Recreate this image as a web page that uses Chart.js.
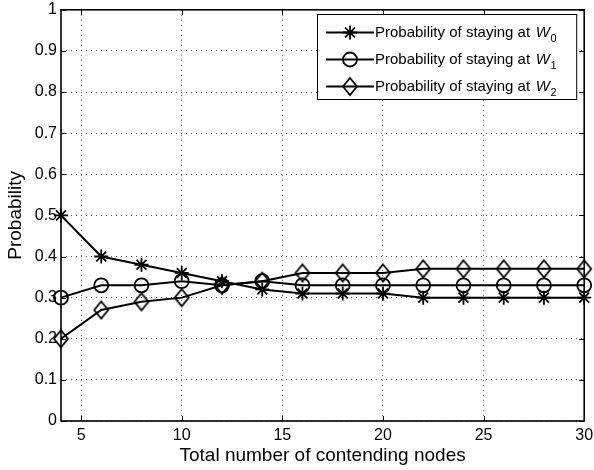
<!DOCTYPE html>
<html>
<head>
<meta charset="utf-8">
<script src="https://cdn.jsdelivr.net/npm/chart.js@4/dist/chart.umd.min.js"></script>
<style>
  html, body { margin: 0; padding: 0; background: #fff; }
  #wrap { width: 594px; height: 470px; }
</style>
</head>
<body>
<div id="wrap"><canvas id="c" width="594" height="470"></canvas></div>
<script>
// Probability of a node staying in each back-off window vs. number of contending nodes
const nodes  = [4, 6, 8, 10, 12, 14, 16, 18, 20, 22, 24, 26, 28, 30];
const stayW0 = [0.50, 0.40, 0.38, 0.36, 0.34, 0.32, 0.31, 0.31, 0.31, 0.30, 0.30, 0.30, 0.30, 0.30];
const stayW1 = [0.30, 0.33, 0.33, 0.34, 0.33, 0.34, 0.33, 0.33, 0.33, 0.33, 0.33, 0.33, 0.33, 0.33];
const stayW2 = [0.20, 0.27, 0.29, 0.30, 0.33, 0.34, 0.36, 0.36, 0.36, 0.37, 0.37, 0.37, 0.37, 0.37];

const legendPrefix = 'Probability of staying at';
const windowNames  = ['W', 'W', 'W'];
const windowIndex  = ['0', '1', '2'];

const xTickValues = [5, 10, 15, 20, 25, 30];
const yTickValues = [0, 0.1, 0.2, 0.3, 0.4, 0.5, 0.6, 0.7, 0.8, 0.9, 1];
const yTickLabels = ['0', '0.1', '0.2', '0.3', '0.4', '0.5', '0.6', '0.7', '0.8', '0.9', '1'];

const xTitle = 'Total number of contending nodes';
const yTitle = 'Probability';

const FONT = "'Liberation Sans', Arial, Helvetica, sans-serif";

// tall open diamond marker
function diamondGlyph(w, h, lw) {
  const c = document.createElement('canvas');
  c.width = w + 4; c.height = h + 4;
  const g = c.getContext('2d');
  const cx = c.width / 2, cy = c.height / 2;
  g.lineWidth = lw;
  g.strokeStyle = '#000';
  g.beginPath();
  g.moveTo(cx, cy - h / 2);
  g.lineTo(cx + w / 2, cy);
  g.lineTo(cx, cy + h / 2);
  g.lineTo(cx - w / 2, cy);
  g.closePath();
  g.stroke();
  return c;
}
const diamond = diamondGlyph(14, 17, 1.8);

function series(values, style, radius) {
  return {
    data: nodes.map((n, i) => ({ x: n, y: values[i] })),
    borderColor: '#000',
    backgroundColor: 'rgba(0,0,0,0)',
    borderWidth: 2,
    pointStyle: style,
    pointRadius: radius,
    pointBorderColor: '#000',
    pointBackgroundColor: 'rgba(0,0,0,0)',
    pointBorderWidth: 1.8,
    tension: 0,
    clip: false
  };
}

// axes frame with inward tick marks on all four sides
const framePlugin = {
  id: 'frame',
  afterDatasetsDraw(chart) {
    const { ctx, chartArea: a, scales: { x, y } } = chart;
    ctx.save();
    ctx.strokeStyle = '#000';
    ctx.lineWidth = 1;
    ctx.beginPath();
    const len = 5;
    xTickValues.forEach(v => {
      const px = Math.round(x.getPixelForValue(v)) + 0.5;
      ctx.moveTo(px, a.bottom); ctx.lineTo(px, a.bottom - len);
      ctx.moveTo(px, a.top); ctx.lineTo(px, a.top + len);
    });
    yTickValues.forEach(v => {
      const py = Math.round(y.getPixelForValue(v)) + 0.5;
      ctx.moveTo(a.left, py); ctx.lineTo(a.left + len, py);
      ctx.moveTo(a.right, py); ctx.lineTo(a.right - len, py);
    });
    ctx.stroke();
    ctx.lineWidth = 1.6;
    ctx.strokeRect(a.left, a.top, a.right - a.left, a.bottom - a.top);
    ctx.restore();
  }
};

// boxed legend with subscripted window names
const legendPlugin = {
  id: 'subLegend',
  afterDraw(chart) {
    const { ctx, chartArea: a } = chart;
    const boxL = 317, boxT = 14, boxW = a.right - 8 - 317, boxH = 85;
    const rowGap = 27, firstRow = boxT + 18.5;
    ctx.save();
    ctx.fillStyle = '#fff';
    ctx.fillRect(boxL, boxT, boxW, boxH);
    ctx.strokeStyle = '#000';
    ctx.lineWidth = 1;
    ctx.strokeRect(boxL + 0.5, boxT + 0.5, boxW, boxH);
    chart.data.datasets.forEach((ds, i) => {
      const yRow = firstRow + i * rowGap;
      ctx.strokeStyle = '#000';
      ctx.lineWidth = ds.borderWidth;
      ctx.beginPath();
      ctx.moveTo(boxL + 9, yRow);
      ctx.lineTo(boxL + 57, yRow);
      ctx.stroke();
      ctx.lineWidth = ds.pointBorderWidth;
      ctx.strokeStyle = '#000';
      ctx.fillStyle = 'rgba(0,0,0,0)';
      Chart.helpers.drawPoint(ctx, { pointStyle: ds.pointStyle, radius: ds.pointRadius, rotation: 0, borderWidth: ds.pointBorderWidth }, boxL + 33, yRow);
      ctx.fillStyle = '#000';
      ctx.textBaseline = 'middle';
      ctx.textAlign = 'left';
      ctx.font = '15px ' + FONT;
      let tx = boxL + 58;
      const txt = legendPrefix + ' ';
      ctx.fillText(txt, tx, yRow);
      tx += ctx.measureText(txt).width + 1.5;
      ctx.font = 'italic 15px ' + FONT;
      ctx.fillText(windowNames[i], tx, yRow);
      tx += ctx.measureText(windowNames[i]).width;
      ctx.font = '11px ' + FONT;
      ctx.fillText(windowIndex[i], tx + 0.5, yRow + 6);
    });
    ctx.restore();
  }
};

function noPad(s) {
  s.paddingTop = 0; s.paddingBottom = 0; s.paddingLeft = 0; s.paddingRight = 0;
}

new Chart(document.getElementById('c'), {
  type: 'line',
  data: {
    datasets: [
      series(stayW0, 'star', 7),
      series(stayW1, 'circle', 7),
      series(stayW2, diamond, 8)
    ]
  },
  options: {
    responsive: false,
    devicePixelRatio: 1,
    animation: false,
    events: [],
    layout: { padding: { top: 7, right: 9, left: 0, bottom: 0 } },
    plugins: { legend: { display: false }, tooltip: { enabled: false } },
    scales: {
      x: {
        type: 'linear',
        min: 4, max: 30,
        afterBuildTicks: s => { s.ticks = xTickValues.map(v => ({ value: v })); },
        afterFit: s => { s.height = 49; noPad(s); },
        ticks: { color: '#000', font: { family: FONT, size: 16 }, padding: 5, maxRotation: 0 },
        grid: { color: '#555', lineWidth: 1, drawTicks: false },
        border: { display: false, dash: [1, 4] },
        title: { display: true, text: xTitle, color: '#000', font: { family: FONT, size: 19 }, padding: { top: 0, bottom: 3 } }
      },
      y: {
        min: 0, max: 1,
        afterBuildTicks: s => { s.ticks = yTickValues.map(v => ({ value: v })); },
        afterFit: s => { s.width = 61; noPad(s); },
        ticks: {
          color: '#000', font: { family: FONT, size: 16 }, padding: 4,
          callback: (v) => yTickLabels[yTickValues.findIndex(t => Math.abs(t - v) < 1e-9)]
        },
        grid: { color: '#555', lineWidth: 1, drawTicks: false },
        border: { display: false, dash: [1, 4] },
        title: { display: true, text: yTitle, color: '#000', font: { family: FONT, size: 19 }, padding: { top: 4, bottom: 0 } }
      }
    }
  },
  plugins: [framePlugin, legendPlugin]
});
</script>
</body>
</html>
